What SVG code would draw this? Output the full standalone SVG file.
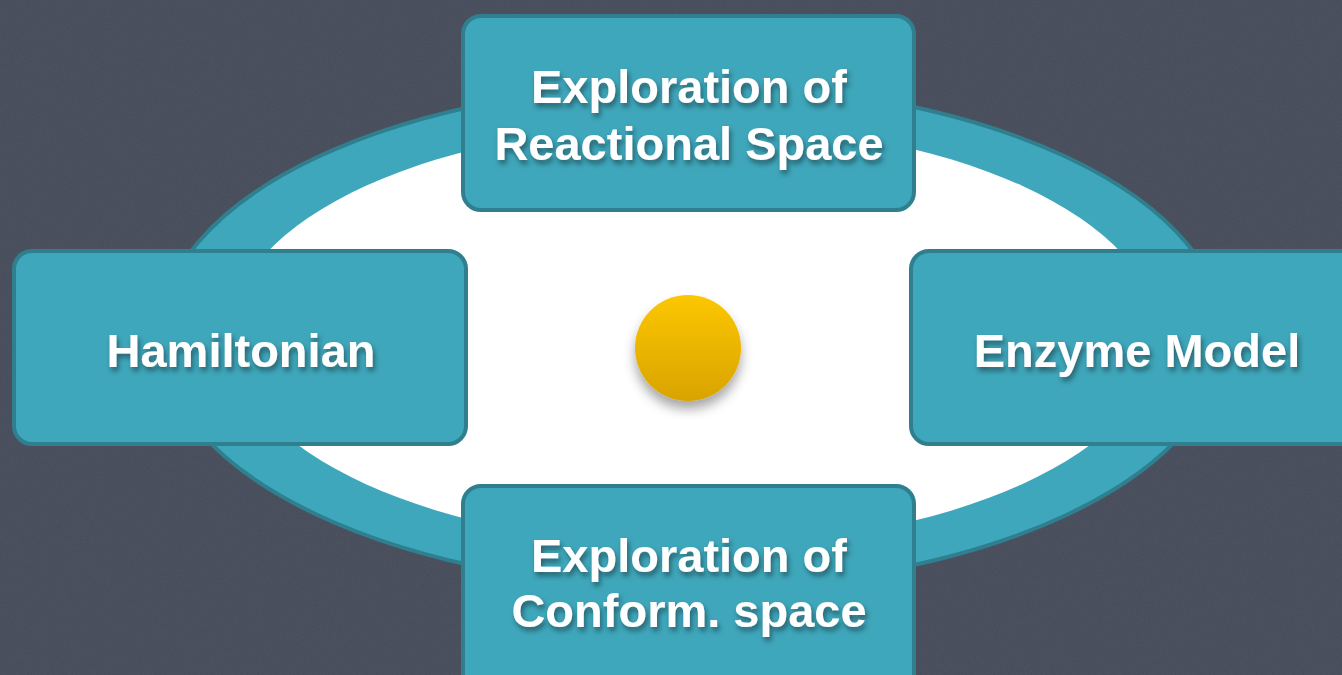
<svg xmlns="http://www.w3.org/2000/svg" width="1342" height="675" viewBox="0 0 1342 675">
  <defs>
    <style>
      .box { fill: #3fa7bb; stroke: #2f7f8f; stroke-width: 4; }
      .lbl { font-family: "Liberation Sans", Arial, Helvetica, sans-serif; font-weight: bold; font-size: 47px; fill: #ffffff; text-anchor: middle; filter: url(#tshadow); }
    </style>
    <filter id="tshadow" x="-10%" y="-30%" width="120%" height="170%">
      <feDropShadow dx="2" dy="4" stdDeviation="2.5" flood-color="#0b2a33" flood-opacity="0.55"/>
    </filter>
    <filter id="dshadow" x="-50%" y="-50%" width="200%" height="200%">
      <feDropShadow dx="0" dy="8" stdDeviation="6" flood-color="#000" flood-opacity="0.35"/>
    </filter>
    <filter id="grain" x="0" y="0" width="100%" height="100%">
      <feTurbulence type="fractalNoise" baseFrequency="0.9" numOctaves="2" seed="3" result="n"/>
      <feColorMatrix type="matrix" values="0 0 0 0 0.75  0 0 0 0 0.78  0 0 0 0 0.85  0 0 0 0.07 0"/>
    </filter>
    <linearGradient id="sun" x1="0" y1="0" x2="0" y2="1">
      <stop offset="0" stop-color="#fcc700"/>
      <stop offset="1" stop-color="#d9a300"/>
    </linearGradient>
  </defs>

  <rect x="0" y="0" width="1342" height="675" fill="#444a58"/>
  <rect x="0" y="0" width="1342" height="675" filter="url(#grain)"/>

  <g id="connectors">
    <ellipse cx="692" cy="336" rx="532" ry="252" fill="#3fa7bb" stroke="#2f7f8f" stroke-width="4"/>
    <ellipse cx="694" cy="335" rx="464" ry="211" fill="#ffffff"/>
  </g>

  <g id="center-dot">
    <circle cx="688" cy="348" r="53" fill="url(#sun)" filter="url(#dshadow)"/>
  </g>

  <g id="node-reactional">
    <rect class="box" x="463" y="16" width="451" height="194" rx="18"/>
    <text class="lbl" x="689" y="103">Exploration of</text>
    <text class="lbl" x="689" y="160">Reactional Space</text>
  </g>

  <g id="node-hamiltonian">
    <rect class="box" x="14" y="251" width="452" height="193" rx="18"/>
    <text class="lbl" x="241" y="367">Hamiltonian</text>
  </g>

  <g id="node-enzyme">
    <rect class="box" x="911" y="251" width="470" height="193" rx="18"/>
    <text class="lbl" x="1137" y="367">Enzyme Model</text>
  </g>

  <g id="node-conform">
    <rect class="box" x="463" y="486" width="451" height="220" rx="18"/>
    <text class="lbl" x="689" y="572">Exploration of</text>
    <text class="lbl" x="689" y="627">Conform. space</text>
  </g>
</svg>
